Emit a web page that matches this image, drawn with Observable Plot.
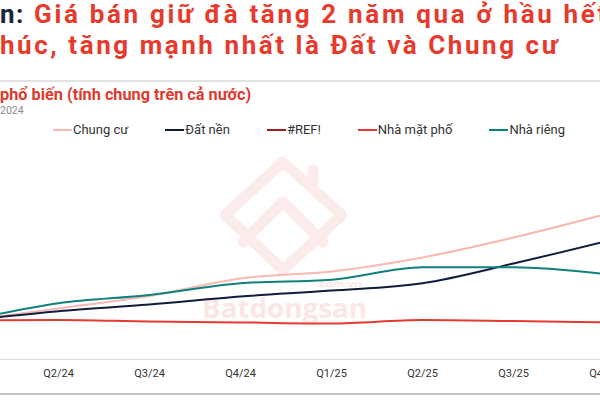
<!DOCTYPE html>
<html><head><meta charset="utf-8">
<script src="https://cdn.jsdelivr.net/npm/d3@7"></script>
<script src="https://cdn.jsdelivr.net/npm/@observablehq/plot@0.6"></script>
<style>
html,body{margin:0;padding:0;background:#fff;}
body{width:600px;height:400px;overflow:hidden;position:relative;font-family:Roboto,sans-serif;}
.abs{position:absolute;white-space:nowrap;}
#title{left:0;top:-1.5px;font-family:Roboto,sans-serif;font-weight:700;font-size:26px;line-height:31px;color:#e8392d;}
#t0{color:#1b2541;letter-spacing:1.5px;}
#sub{left:0;top:87px;font-weight:700;font-size:16.3px;line-height:16.3px;color:#e0392e;}
#period{left:0;top:106px;font-size:10.5px;line-height:10.5px;color:#8a8a8a;}
#sep{left:0;top:80px;width:600px;height:2px;background:#e2e2e2;}
#legend{left:53px;top:122px;display:flex;gap:37px;font-size:13px;color:#333;}
#legend .it{display:flex;align-items:center;}
#legend .sw{width:19px;height:2px;margin-right:1px;}
#axisline{left:0;top:359px;width:600px;height:1px;background:#dcdcdc;}
#botline{left:0;top:393px;width:600px;height:2px;background:#c4c4c4;}
#wm{left:0;top:0;}
#chart{left:0;top:145px;}
</style></head>
<body>
<svg id="wm" class="abs" width="600" height="400">
  <g fill="none" stroke="#fcebeb" stroke-width="11" stroke-linejoin="round" stroke-linecap="round">
    <path d="M225,215 L283,162 L342,215 L283,270 Z"/>
    <path d="M243,242 L283,202 L323,242"/>
    <path d="M313,170 L313,182"/>
  </g>
  <text x="202" y="318" font-family="Open Sans" font-weight="700" font-size="26" fill="#fbe6e6" textLength="165" lengthAdjust="spacingAndGlyphs">Batdongsan</text>
  <text x="316" y="287" font-family="Open Sans" font-weight="700" font-size="9" fill="#fbe6e6" textLength="46" lengthAdjust="spacingAndGlyphs">.com.vn</text>
</svg>
<div id="title" class="abs"><span id="t0">n:</span><span id="t1"> Giá bán giữ đà tăng 2 năm qua ở hầu hết</span><br><span id="t2">húc, tăng mạnh nhất là Đất và Chung cư</span></div>
<div id="sep" class="abs"></div>
<div id="sub" class="abs">phổ biến (tính chung trên cả nước)</div>
<div id="period" class="abs">2024</div>
<div id="legend" class="abs"></div>
<div id="axisline" class="abs"></div>
<div id="botline" class="abs"></div>
<div id="chart" class="abs"></div>
<script>
const quarters = ["Q1/24","Q2/24","Q3/24","Q4/24","Q1/25","Q2/25","Q3/25","Q4/25"];
const seriesNames = ["Chung cư","Đất nền","#REF!","Nhà mặt phố","Nhà riêng"];
const seriesColors = ["#f7b9b2","#0f1d3d","#a11d1d","#e33b2f","#10807d"];
const chungCu   = [100, 106.9, 114.0, 124.0, 128.0, 136.0, 147.4, 160.6];
const datNen    = [100, 105.3, 109.1, 113.7, 117.1, 121.3, 132.6, 145.1];
const refErr    = [];
const nhaMatPho = [100, 100.3, 99.4, 98.9, 98.3, 100.3, 99.7, 98.9];
const nhaRieng  = [100, 109.9, 114.6, 121.3, 123.3, 130.5, 130.5, 126.6];
const seriesValues = [chungCu, datNen, refErr, nhaMatPho, nhaRieng];

// fit title spans so each line ends where the reference's does
function fit(id, rightEdge) {
  const el = document.getElementById(id);
  el.style.letterSpacing = "0px";
  const r = el.getBoundingClientRect();
  const n = [...el.textContent].length;
  el.style.letterSpacing = ((rightEdge - r.right) / n) + "px";
}
fit("t1", 609);
fit("t2", 560);

const data = [];
seriesNames.forEach((name, i) => {
  seriesValues[i].forEach((v, j) => data.push({series: name, quarter: quarters[j], value: v}));
});

const legend = document.getElementById("legend");
seriesNames.forEach((n, i) => {
  const it = document.createElement("div"); it.className = "it";
  const sw = document.createElement("span"); sw.className = "sw"; sw.style.background = seriesColors[i];
  const tx = document.createElement("span"); tx.textContent = n;
  it.appendChild(sw); it.appendChild(tx); legend.appendChild(it);
});

const chart = Plot.plot({
  width: 600,
  height: 255,
  marginTop: 0, marginLeft: 0, marginRight: 0, marginBottom: 41,
  style: {background: "transparent", overflow: "hidden"},
  x: {type: "point", domain: quarters, range: [-35, 606], padding: 0, label: null},
  y: {domain: [100, 160], range: [175, 70], axis: null},
  color: {domain: seriesNames, range: seriesColors},
  marks: [
    Plot.axisX({anchor: "bottom", tickSize: 0, tickPadding: 10, fontSize: 11, fontFamily: "Roboto", color: "#333", label: null}),
    Plot.line(data, {x: "quarter", y: "value", z: "series", stroke: "series", strokeWidth: 2, curve: "monotone-x"})
  ]
});
document.getElementById("chart").appendChild(chart);
</script>
</body></html>
